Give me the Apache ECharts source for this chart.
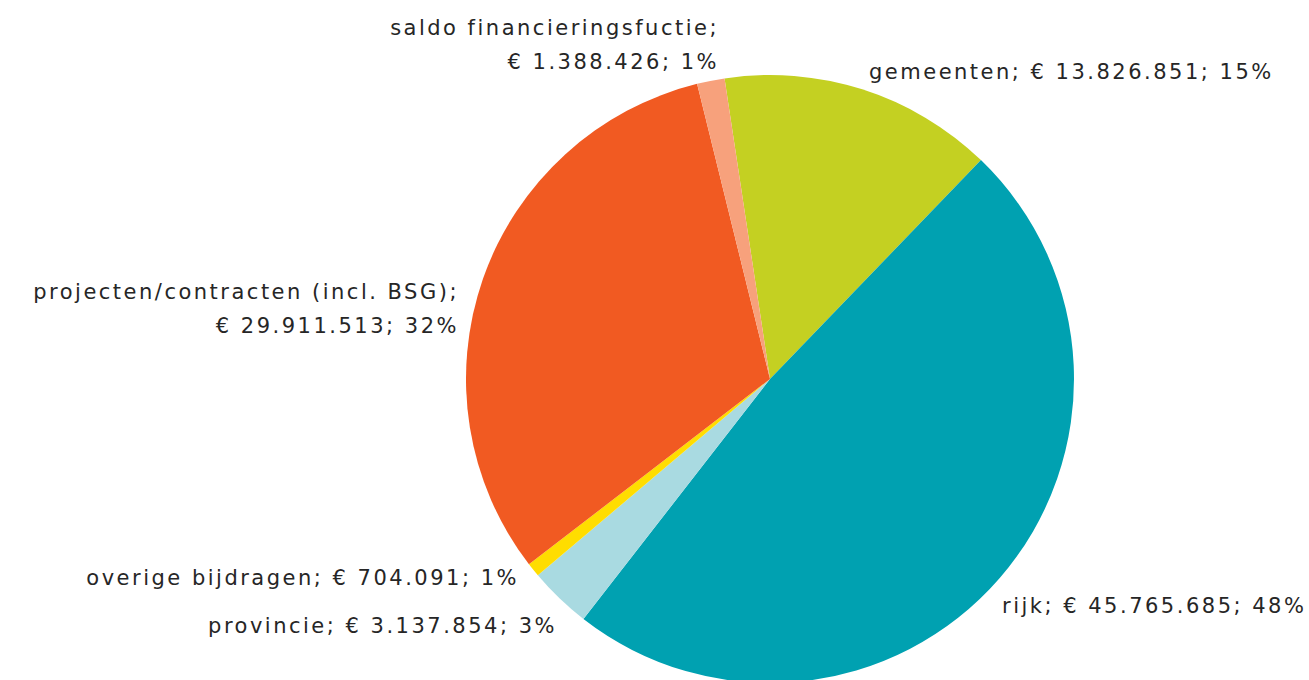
<!DOCTYPE html>
<html>
<head>
<meta charset="utf-8">
<script src="https://cdn.jsdelivr.net/npm/echarts@6/dist/echarts.min.js"></script>
<style>
  html, body { margin: 0; padding: 0; background: #fff; }
  #chart { width: 1309px; height: 680px; }
  /* the original labels are set with wide tracking */
  #chart svg text { letter-spacing: 2.5px; }
</style>
</head>
<body>
<div id="chart"></div>
<script>
// data, clockwise from the top
const names = ['gemeenten', 'rijk', 'provincie', 'overige bijdragen', 'projecten/contracten (incl. BSG)', 'saldo financieringsfuctie'];
const values = [13826851, 45765685, 3137854, 704091, 29911513, 1388426];
const colors = ['#C4D022', '#00A1B1', '#A9DAE1', '#FFDD00', '#F15A22', '#F7A17C'];
const wrapped = ['projecten/contracten (incl. BSG)', 'saldo financieringsfuctie'];

// where each label sits (x, y, align)
const labelPos = [
  [869, 72, 'left'],
  [1002, 606, 'left'],
  [557, 626, 'right'],
  [519, 578, 'right'],
  [459, 309, 'right'],
  [719, 45, 'right']
];

const fmt = (v) => String(v).replace(/\B(?=(\d{3})+(?!\d))/g, '.');

const chart = echarts.init(document.getElementById('chart'), null, { renderer: 'svg' });
chart.setOption({
  animation: false,
  series: [{
    type: 'pie',
    center: [770, 379],
    radius: 304,
    startAngle: 98.6,
    clockwise: true,
    avoidLabelOverlap: false,
    emphasis: { disabled: true },
    data: names.map((n, i) => ({ name: n, value: values[i], itemStyle: { color: colors[i] } })),
    label: {
      show: true,
      position: 'outside',
      fontFamily: 'DejaVu Sans',
      fontSize: 21,
      lineHeight: 34,
      color: '#262626',
      formatter: (p) => {
        const sep = wrapped.indexOf(p.name) >= 0 ? ';\n' : '; ';
        return p.name + sep + '€ ' + fmt(p.value) + '; ' + Math.round(p.percent) + '%';
      }
    },
    labelLine: { show: false },
    labelLayout: (params) => {
      const pos = labelPos[params.dataIndex];
      return { x: pos[0], y: pos[1], align: pos[2], verticalAlign: 'middle' };
    }
  }]
});
</script>
</body>
</html>
